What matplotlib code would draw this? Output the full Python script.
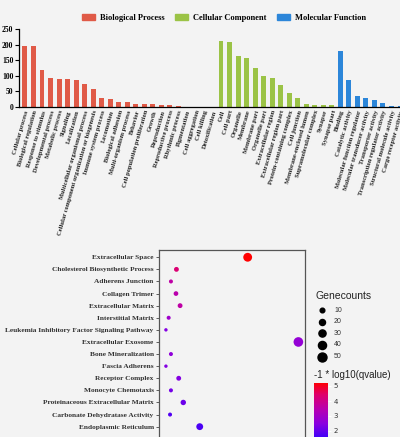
import matplotlib
matplotlib.use('Agg')
import matplotlib.pyplot as plt
import numpy as np
from matplotlib.colors import LinearSegmentedColormap, Normalize
from matplotlib.patches import Patch
from matplotlib.lines import Line2D

# GO bar chart data
bp_terms = ['Cellular process', 'Biological regulation', 'Response to stimulus',
            'Developmental process', 'Metabolic process', 'Signaling', 'Localization',
            'Multicellular organismal process', 'Cellular component organization or biogenesis',
            'Immune system process', 'Locomotion', 'Biological adhesion',
            'Multi-organism process', 'Behavior', 'Cell population proliferation', 'Growth',
            'Reproduction', 'Reproductive process', 'Rhythmic process', 'Pigmentation',
            'Cell aggregation', 'Cell killing', 'Detoxification']
bp_counts = [195, 195, 120, 93, 90, 89, 88, 75, 59, 30, 27, 17, 17, 10, 10, 10, 6, 6, 3, 1, 1, 1, 1]

cc_terms = ['Cell', 'Cell part', 'Organelle', 'Membrane', 'Membrane part', 'Organelle part',
            'Extracellular region', 'Extracellular region part', 'Protein-containing complex',
            'Cell junction', 'Membrane-enclosed lumen', 'Supramolecular complex', 'Synapse',
            'Synapse part']
cc_counts = [210, 208, 164, 157, 124, 100, 93, 69, 46, 29, 9, 8, 7, 6]

mf_terms = ['Binding', 'Catalytic activity', 'Molecular function regulator',
            'Molecular transducer activity', 'Transporter activity',
            'Transcription regulator activity', 'Structural molecule activity',
            'Cargo receptor activity']
mf_counts = [180, 85, 35, 30, 23, 14, 4, 2]

# bubble chart data
terms = ['Extracellular Space', 'Cholesterol Biosynthetic Process', 'Adherens Junction',
         'Collagen Trimer', 'Extracellular Matrix', 'Interstitial Matrix',
         'Leukemia Inhibitory Factor Signaling Pathway', 'Extracellular Exosome',
         'Bone Mineralization', 'Fascia Adherens', 'Receptor Complex', 'Monocyte Chemotaxis',
         'Proteinaceous Extracellular Matrix', 'Carbonate Dehydratase Activity',
         'Endoplasmic Reticulum']
gene_ratio = [0.189, 0.033, 0.021, 0.032, 0.041, 0.016, 0.010, 0.300,
              0.021, 0.010, 0.038, 0.021, 0.048, 0.019, 0.084]
gene_counts = [48, 11, 6, 10, 11, 6, 3, 58, 6, 3, 11, 6, 15, 6, 27]
log_q = [5.2, 4.3, 3.6, 3.5, 3.6, 2.9, 2.4, 2.7, 2.6, 2.4, 2.4, 2.2, 2.1, 1.8, 1.7]
size_breaks = [10, 20, 30, 40, 50]
q_ticks = [2, 3, 4, 5]

bg = '#f3f3f3'
W, H = 400, 437
fig = plt.figure(figsize=(4, 4.37), dpi=100, facecolor=bg)

def fx(px):
    return px / W

def fy(px):
    return 1 - px / H

serif = 'Liberation Serif'
sans = 'Liberation Sans'

# ---------- top: GO bar chart ----------
ax1 = fig.add_axes([fx(19), fy(107), 1 - fx(19), fy(29) - fy(107)], facecolor=bg)
all_terms = bp_terms + cc_terms + mf_terms
all_counts = bp_counts + cc_counts + mf_counts
colors = ['#e05a47'] * len(bp_terms) + ['#9bc346'] * len(cc_terms) + ['#2c86d9'] * len(mf_terms)
xs = np.arange(len(all_terms))
ax1.bar(xs, all_counts, width=0.58, color=colors)
ax1.set_xlim(-0.7, 43.1)
ax1.set_ylim(0, 250)
ax1.set_yticks([0, 50, 100, 150, 200, 250])
ax1.set_xticks(xs)
ax1.set_xticklabels(all_terms, rotation=74, ha='right', rotation_mode='anchor',
                    fontsize=4.7, fontfamily=serif, fontweight='bold', color='#222222')
for lab in ax1.get_yticklabels():
    lab.set_fontfamily(serif)
    lab.set_fontweight('bold')
ax1.tick_params(axis='y', labelsize=5.5, length=3, width=0.8, pad=1)
ax1.tick_params(axis='x', length=0, pad=2)
ax1.spines['top'].set_visible(False)
ax1.spines['right'].set_visible(False)
ax1.spines['left'].set_linewidth(0.9)
ax1.spines['bottom'].set_linewidth(0.9)

handles = [Patch(color='#e05a47', label='Biological Process'),
           Patch(color='#9bc346', label='Cellular Component'),
           Patch(color='#2c86d9', label='Molecular Function')]
fig.legend(handles=handles, loc='center', bbox_to_anchor=(fx(224), fy(18)), ncol=3,
           frameon=False, handlelength=1.6, handleheight=0.6, columnspacing=1.2,
           handletextpad=0.6, prop={'family': serif, 'weight': 'bold', 'size': 6})

# ---------- bottom: bubble chart ----------
cmap = LinearSegmentedColormap.from_list(
    'q', [(0, '#2a00ff'), (0.3, '#8a00e0'), (0.55, '#b800b0'), (0.8, '#e0006a'), (1, '#ff0000')])
norm = Normalize(vmin=1.3, vmax=5.2)

def bubble_size(c):
    return 3.76 + 0.765 * np.asarray(c)

ax2 = fig.add_axes([fx(159.3), fy(441), fx(305) - fx(159.3), fy(250) - fy(441)], facecolor=bg)
ys = np.arange(len(terms))
ax2.scatter(gene_ratio, ys, s=bubble_size(gene_counts), c=log_q, cmap=cmap, norm=norm,
            edgecolors='none', zorder=3)
xr = max(gene_ratio) - min(gene_ratio)
ax2.set_xlim(min(gene_ratio) - 0.05 * xr, max(gene_ratio) + 0.05 * xr)
ax2.set_ylim(-0.6 + (441 - 250) / 12.1, -0.6)
ax2.set_yticks(ys)
ax2.set_yticklabels(terms, fontsize=5.3, fontfamily=serif, fontweight='bold', color='#333333')
ax2.set_xticks([])
ax2.tick_params(axis='y', length=2, width=0.6, color='#444444', pad=2)
for sp in ax2.spines.values():
    sp.set_color('#555555')
    sp.set_linewidth(0.9)

# size legend
fig.text(fx(315), fy(296), 'Genecounts', fontsize=7.5, family=sans, color='#222222',
         va='center', ha='left')
leg_ys = [310, 321.7, 333.3, 345, 357]
for b, ly in zip(size_breaks, leg_ys):
    fig.add_artist(Line2D([fx(321.7)], [fy(ly)], marker='o', linestyle='none', color='black',
                          markersize=np.sqrt(bubble_size(b)), transform=fig.transFigure))
    fig.text(fx(334), fy(ly), str(b), fontsize=5, family=sans, color='#333333', va='center')

# colour legend
fig.text(fx(314), fy(375), '-1 * log10(qvalue)', fontsize=7, family=sans, color='#222222',
         va='center', ha='left')
cax = fig.add_axes([fx(314), fy(441), fx(328) - fx(314), fy(382.7) - fy(441)])
lo = 5.22 - (441 - 382.7) / 15.0
cax.imshow(np.linspace(5.22, lo, 256).reshape(-1, 1), aspect='auto', cmap=cmap, norm=norm,
           extent=[0, 1, lo, 5.22])
cax.set_ylim(lo, 5.22)
cax.set_xticks([])
cax.yaxis.tick_right()
cax.set_yticks(q_ticks)
cax.tick_params(axis='y', length=2, color='white', labelsize=5, labelcolor='#333333', pad=2)
for sp in cax.spines.values():
    sp.set_visible(False)

fig.savefig('out.png', dpi=100, facecolor=bg)
